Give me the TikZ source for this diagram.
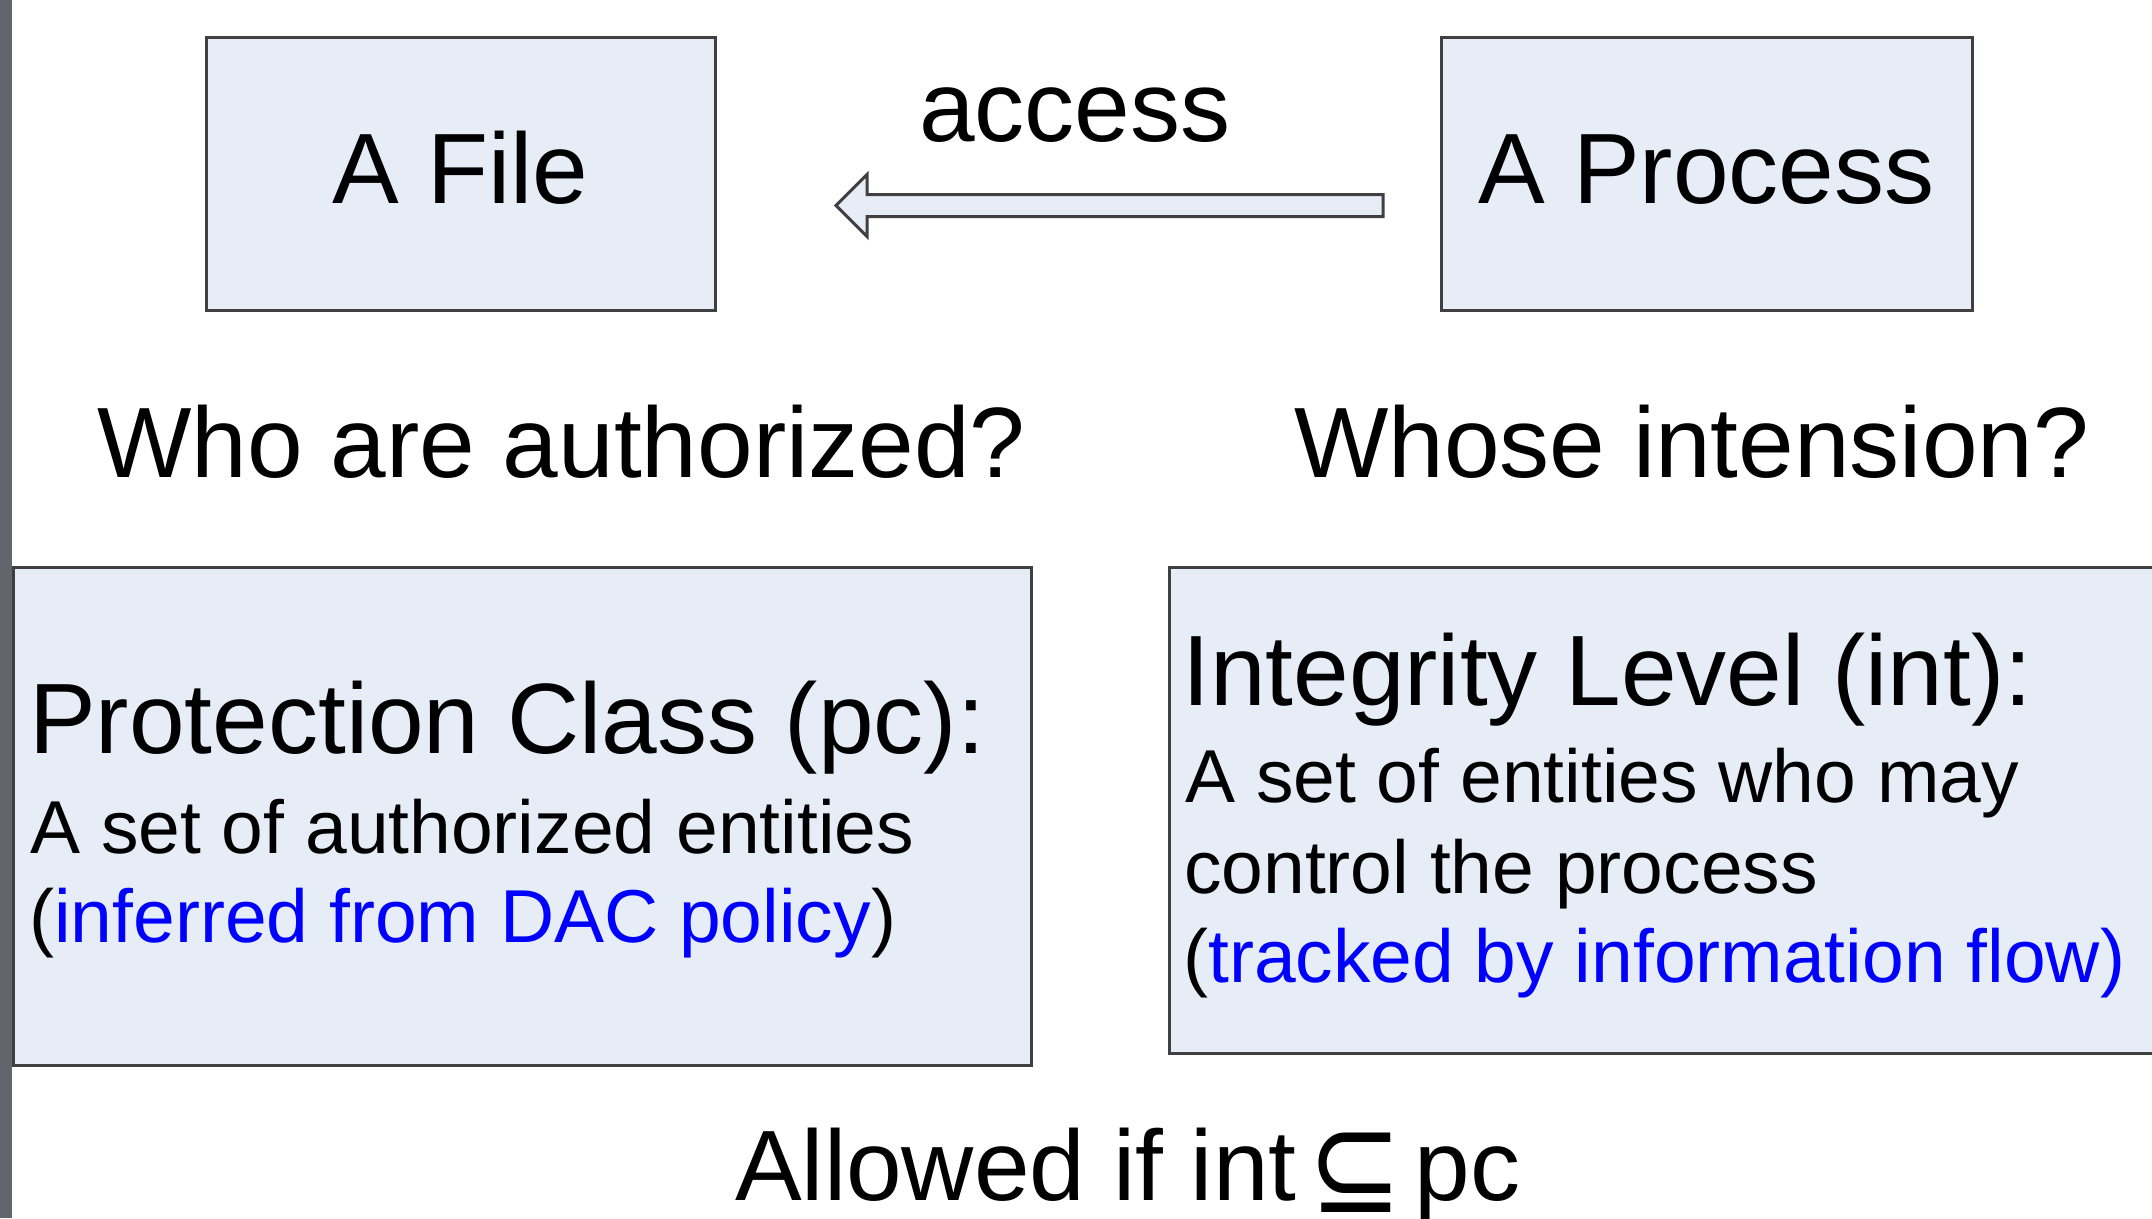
\documentclass[tikz,border=0pt]{standalone}
\usepackage{fontspec}
\usetikzlibrary{calc}
\setmainfont{Liberation Sans}
\newfontfamily\symfont{DejaVu Sans}
\definecolor{boxfill}{RGB}{231,237,247}
\definecolor{boxline}{RGB}{64,64,64}
\definecolor{linkblue}{RGB}{0,0,255}
\definecolor{barcol}{RGB}{98,102,108}
\tikzset{
  panel/.style={draw=boxline, fill=boxfill, line width=3pt, inner sep=0pt},
  bigtxt/.style={inner sep=0pt, font=\fontsize{100}{120}\selectfont},
  smalltxt/.style={inner sep=0pt, font=\fontsize{75}{90}\selectfont},
}
\begin{document}
\begin{tikzpicture}[x=1pt,y=-1pt]
\useasboundingbox (0,0) rectangle (2152,1218);
\clip (0,0) rectangle (2152,1218);
\fill[white] (0,0) rectangle (2152,1218);
% left bar
\fill[barcol] (0,0) rectangle (12,1218);

% top boxes
\node[panel, bigtxt, minimum width=509pt, minimum height=273pt,
      text height=71.6pt, text depth=12.6pt] (file) at (460.5,173.5) {A File};
\node[panel, bigtxt, minimum width=531pt, minimum height=273pt,
      text height=71.6pt, text depth=12.6pt] (process) at (1706.5,173.5) {A Process};

% block arrow (process -> file)
\coordinate (tip) at (836,205.5);
\coordinate (tail) at (1383,205.5);
\draw[draw=boxline, fill=boxfill, line width=3pt, line join=miter]
  (tip) -- ++(31,-31) -- ++(0,20) -- ($(tail)+(0,-11)$) -- ($(tail)+(0,11)$)
  -- ($(tip)+(31,11)$) -- ++(0,20) -- cycle;
\node[bigtxt, anchor=base] (access) at (1075,141) {access};

% questions
\node[bigtxt, anchor=base west] (who) at (97,477) {Who are authorized?};
\node[bigtxt, anchor=base west] (whose) at (1294,477) {Whose intension?};

% lower boxes
\node[panel, minimum width=1018pt, minimum height=498pt] (pc) at (522,816) {};
\node[panel, minimum width=1031pt, minimum height=486pt] (il) at (1684.5,810) {};

% PC text
\node[bigtxt, anchor=base west] (pct1) at (29,753) {Protection Class (pc):};
\node[smalltxt, anchor=base west] (pct2) at (30,853) {A set of authorized entities};
\node[smalltxt, anchor=base west] (pct3) at (29,942) {(\textcolor{linkblue}{inferred from DAC policy})};

% IL text
\node[bigtxt, anchor=base west] (ilt1) at (1182,705) {Integrity Level (int):};
\node[smalltxt, anchor=base west] (ilt2) at (1185,802) {A set of entities who may};
\node[smalltxt, anchor=base west] (ilt3) at (1184,893) {control the process};
\node[smalltxt, anchor=base west] (ilt4) at (1183,982) {(\textcolor{linkblue}{tracked by information flow)}};

% bottom rule
\node[bigtxt, anchor=base west] (allowed) at (735,1200)
  {Allowed if int\hspace{12pt}\raisebox{-12pt}{\scalebox{1.17}[1.35]{\symfont\fontsize{96}{110}\selectfont ⊆}}\hspace{12pt}pc};
\end{tikzpicture}
\end{document}
